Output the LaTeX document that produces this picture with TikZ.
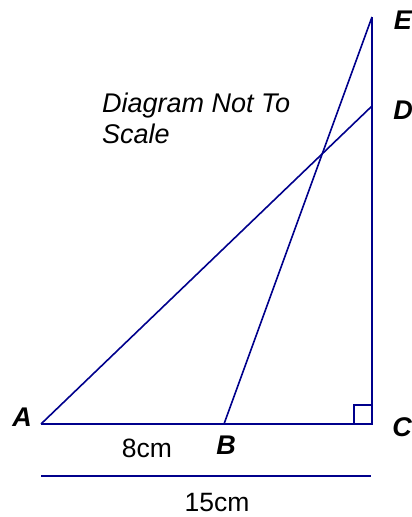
\documentclass[tikz,border=0pt]{standalone}
\usepackage{fontspec}
\setmainfont{Liberation Sans}
\definecolor{navyline}{RGB}{0,0,140}
\begin{document}
\begin{tikzpicture}[x=1pt,y=-1pt,
  seg/.style={draw=navyline,line width=1.6pt},
  ptlabel/.style={font=\fontsize{27}{32}\selectfont\bfseries\itshape,inner sep=0pt},
  dimlabel/.style={font=\fontsize{26.5}{31}\selectfont,inner sep=0pt},
  note/.style={font=\fontsize{27}{32}\selectfont\itshape,inner sep=0pt,anchor=base west}]
\useasboundingbox (0,0) rectangle (412,517);
\coordinate (A) at (41,424);
\coordinate (B) at (224,424);
\coordinate (C) at (372,424);
\coordinate (D) at (372,106);
\coordinate (E) at (372,17);
\coordinate (L1) at (41,476);
\coordinate (L2) at (371,476);
\draw[seg] (A) -- (C) -- (E);
\draw[seg] (A) -- (D);
\draw[seg] (B) -- (E);
\draw[seg] (L1) -- (L2);
\draw[draw=navyline,line width=1.2pt] ([xshift=-18pt]C) -- ++(0,-19) -- ++(18,0);
\node[ptlabel] (lA) at (22,417) {A};
\node[ptlabel] (lB) at (226,445) {B};
\node[ptlabel] (lC) at (402,427) {C};
\node[ptlabel] (lD) at (403,110) {D};
\node[ptlabel] (lE) at (403,20) {E};
\node[dimlabel] (l8) at (147,448) {8cm};
\node[dimlabel] (l15) at (217,503) {15cm};
\node[note] (n1) at (102,112) {Diagram Not To};
\node[note] (n2) at (102,143) {Scale};
\end{tikzpicture}
\end{document}
